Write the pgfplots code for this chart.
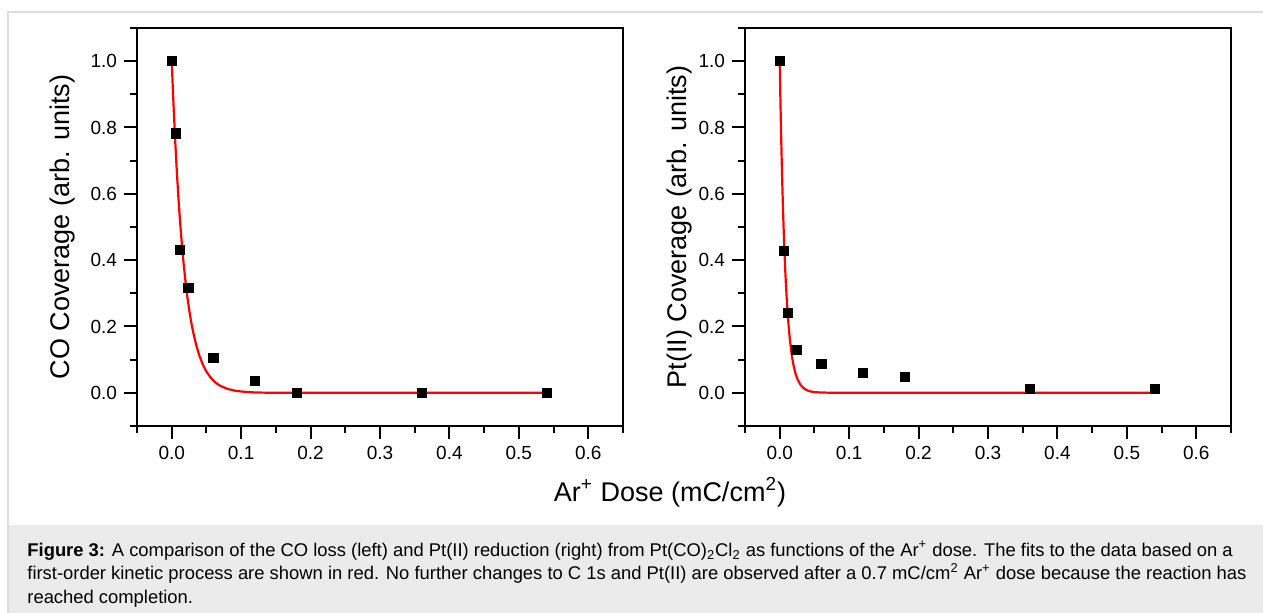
\documentclass[border=0pt]{standalone}
\usepackage{fontspec}
\setmainfont{Liberation Sans}
\usepackage{pgfplots}
\pgfplotsset{compat=1.18}

\definecolor{framegray}{HTML}{DDDDDD}
\definecolor{capgray}{HTML}{EBEBEB}

% one pixel of the reference = 0.5pt
\pgfplotsset{
  panel/.style={
    scale only axis,
    width=243pt, height=199pt,
    xmin=-0.05, xmax=0.65, ymin=-0.1, ymax=1.1,
    xtick={0,0.1,0.2,0.3,0.4,0.5,0.6},
    ytick={0,0.2,0.4,0.6,0.8,1.0},
    minor xtick={-0.05,0.05,0.15,0.25,0.35,0.45,0.55,0.65},
    minor ytick={-0.1,0.1,0.3,0.5,0.7,0.9,1.1},
    tick align=outside, tick pos=left,
    major tick length=6.5pt, minor tick length=3.5pt,
    axis line style={line width=1pt},
    every tick/.style={line width=1pt, black},
    ticklabel style={font=\fontsize{9.5}{11}\selectfont},
    /pgf/number format/assume math mode=true,
    /pgf/number format/fixed, /pgf/number format/fixed zerofill,
    /pgf/number format/precision=1,
    scaled ticks=false,
    ylabel style={font=\fontsize{13.5}{16}\selectfont, rotate=0},
    clip=false,
  },
  dots/.style={only marks, mark=square*, mark size=2.3pt, black},
  fit/.style={red, line width=1.1pt, no marks},
}

\begin{document}
\begin{tikzpicture}
\useasboundingbox (0,0) rectangle (631.5pt,-306.5pt);
% frame and caption box
\fill[capgray] (4pt,-262.5pt) rectangle (631.5pt,-306.5pt);
\draw[framegray, line width=0.6pt] (4pt,-306.5pt) -- (4pt,-6pt) -- (631.5pt,-6pt);

% left: CO coverage
\begin{axis}[panel, at={(68.5pt,-14pt)}, anchor=north west,
  ylabel={CO Coverage (arb. units)},
  ylabel style={at={(axis description cs:-0.154,0.5)}, anchor=center}]
\addplot[fit] coordinates {
  (0,1.000) (0.0025,0.872) (0.005,0.760) (0.0075,0.662) (0.010,0.577)
  (0.0125,0.503) (0.015,0.438) (0.0175,0.382) (0.020,0.333) (0.0225,0.290)
  (0.025,0.253) (0.0275,0.220) (0.030,0.192) (0.035,0.146) (0.040,0.111)
  (0.045,0.084) (0.050,0.064) (0.055,0.049) (0.060,0.037) (0.065,0.028)
  (0.070,0.021) (0.080,0.012) (0.090,0.007) (0.100,0.004) (0.120,0.001)
  (0.150,0.000) (0.540,0.000)
};
\addplot[dots] coordinates {
  (0,1.0) (0.006,0.782) (0.012,0.430) (0.024,0.316) (0.06,0.105)
  (0.12,0.037) (0.18,0.0) (0.36,0.0) (0.54,0.0)
};
\end{axis}

% right: Pt(II) coverage
\begin{axis}[panel, at={(372.5pt,-14pt)}, anchor=north west,
  ylabel={Pt(II) Coverage (arb. units)},
  ylabel style={at={(axis description cs:-0.135,0.5)}, anchor=center}]
\addplot[fit] coordinates {
  (0,1.000) (0.001,0.882) (0.002,0.779) (0.003,0.687) (0.004,0.607)
  (0.005,0.535) (0.006,0.472) (0.007,0.417) (0.008,0.368) (0.009,0.325)
  (0.010,0.287) (0.012,0.223) (0.014,0.174) (0.016,0.135) (0.018,0.105)
  (0.020,0.082) (0.023,0.056) (0.026,0.039) (0.030,0.024) (0.035,0.013)
  (0.040,0.007) (0.045,0.004) (0.050,0.002) (0.060,0.001) (0.080,0.000)
  (0.540,0.000)
};
\addplot[dots] coordinates {
  (0,1.0) (0.006,0.427) (0.012,0.242) (0.024,0.129) (0.06,0.087)
  (0.12,0.059) (0.18,0.048) (0.36,0.012) (0.54,0.011)
};
\end{axis}

% shared x label
\node[font=\fontsize{13.5}{16}\selectfont, anchor=center] at (335pt,-246pt)
  {Ar\textsuperscript{+} Dose (mC/cm\textsuperscript{2})};

% caption
\begin{scope}[every node/.style={anchor=base west, inner sep=0pt,
    font=\fontsize{9.2}{11}\selectfont}]
\node at (13.5pt,-278.2pt) {\textbf{Figure 3:} A comparison of the CO loss (left) and Pt(II) reduction (right) from Pt(CO)\textsubscript{2}Cl\textsubscript{2} as functions of the Ar\textsuperscript{+} dose. The fits to the data based on a};
\node at (13.5pt,-290pt) {first-order kinetic process are shown in red. No further changes to C 1s and Pt(II) are observed after a 0.7 mC/cm\textsuperscript{2} Ar\textsuperscript{+} dose because the reaction has};
\node at (13.5pt,-301.8pt) {reached completion.};
\end{scope}
\end{tikzpicture}
\end{document}
